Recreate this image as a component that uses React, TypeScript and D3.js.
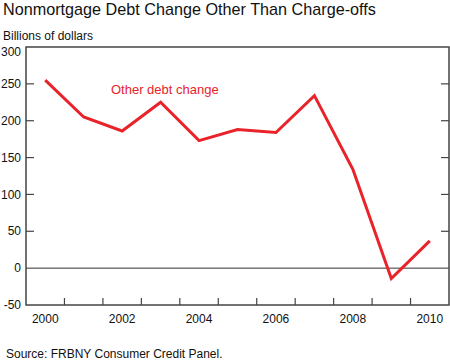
import * as React from "react";
import * as d3 from "d3";

const years = ["2000", "2001", "2002", "2003", "2004", "2005", "2006", "2007", "2008", "2009", "2010"];
const otherDebtChange = [255, 205, 186, 225, 173, 188, 184, 234, 134, -14, 37];
const yTicks = [-50, 0, 50, 100, 150, 200, 250, 300];
const xLabels = ["2000", "2002", "2004", "2006", "2008", "2010"];

const W = 450;
const H = 362;
const font = "'Liberation Sans', Arial, sans-serif";

function drawChart(svgRef: React.RefObject<SVGSVGElement | null>) {
  const margin = { top: 47, right: 1, bottom: 57, left: 26 };
  const width = W - margin.left - margin.right;
  const height = H - margin.top - margin.bottom;

  const x = d3.scaleBand().domain(years).range([0, width]);
  const y = d3.scaleLinear().domain([-50, 300]).range([height, 0]);

  const svgContainer = d3.select(svgRef.current).attr("width", W).attr("height", H);
  svgContainer.selectAll("*").remove();

  svgContainer.append("text")
    .text("Nonmortgage Debt Change Other Than Charge-offs")
    .attr("x", 3).attr("y", 15)
    .attr("font-family", font).attr("font-size", 16.2).attr("fill", "#111");

  svgContainer.append("text")
    .text("Billions of dollars")
    .attr("x", 3).attr("y", 40)
    .attr("font-family", font).attr("font-size", 12).attr("fill", "#111");

  svgContainer.append("text")
    .text("Source: FRBNY Consumer Credit Panel.")
    .attr("x", 6).attr("y", 358)
    .attr("font-family", font).attr("font-size", 12).attr("fill", "#111");

  const svg = svgContainer.append("g").attr("transform", `translate(${margin.left},${margin.top})`);

  // y tick labels (top one nudged down, as in the original)
  svg.selectAll(".ylab")
    .data(yTicks)
    .enter()
    .append("text")
    .attr("x", -5)
    .attr("y", d => y(d) + (d === 300 ? 5 : 0))
    .attr("dy", "0.35em")
    .attr("text-anchor", "end")
    .attr("font-family", font).attr("font-size", 12).attr("fill", "#111")
    .text(d => d);

  // inner ticks left & right
  const tickLen = 8;
  const innerTicks = yTicks.filter(d => d !== 0 && d !== -50 && d !== 300);
  svg.selectAll(".ytl")
    .data(innerTicks)
    .enter()
    .append("line")
    .attr("x1", 0).attr("x2", tickLen)
    .attr("y1", d => y(d)).attr("y2", d => y(d))
    .attr("stroke", "#444").attr("stroke-width", 1.2);
  svg.selectAll(".ytr")
    .data(innerTicks)
    .enter()
    .append("line")
    .attr("x1", width).attr("x2", width - tickLen)
    .attr("y1", d => y(d)).attr("y2", d => y(d))
    .attr("stroke", "#444").attr("stroke-width", 1.2);

  // bottom ticks at year boundaries
  svg.selectAll(".xt")
    .data(years.slice(1))
    .enter()
    .append("line")
    .attr("x1", d => x(d)!).attr("x2", d => x(d)!)
    .attr("y1", height).attr("y2", height - 7)
    .attr("stroke", "#444").attr("stroke-width", 1.2);

  svg.selectAll(".xlab")
    .data(xLabels)
    .enter()
    .append("text")
    .attr("x", d => x(d)! + x.bandwidth() / 2)
    .attr("y", height + 18)
    .attr("text-anchor", "middle")
    .attr("font-family", font).attr("font-size", 12).attr("fill", "#111")
    .text(d => d);

  // zero line
  svg.append("line")
    .attr("x1", 0).attr("x2", width)
    .attr("y1", y(0)).attr("y2", y(0))
    .attr("stroke", "#333").attr("stroke-width", 1);

  // frame
  svg.append("rect")
    .attr("x", 0).attr("y", 0)
    .attr("width", width).attr("height", height)
    .attr("fill", "none").attr("stroke", "#444").attr("stroke-width", 1.5);

  const line = d3.line<number>()
    .x((_, i) => x(years[i])! + x.bandwidth() / 2)
    .y(d => y(d));

  svg.append("path")
    .datum(otherDebtChange)
    .attr("d", line)
    .attr("fill", "none")
    .attr("stroke", "#e8232a")
    .attr("stroke-width", 3)
    .attr("stroke-linejoin", "miter");

  svg.append("text")
    .text("Other debt change")
    .attr("x", 85).attr("y", 47)
    .attr("font-family", font).attr("font-size", 13).attr("fill", "#e8232a");
}

const App = () => {
  const svgRef = React.useRef<SVGSVGElement>(null);

  React.useEffect(() => {
    drawChart(svgRef);
  }, []);

  return (
    <div style={{ position: "absolute", left: 0, top: 0 }}>
      <svg ref={svgRef} style={{ display: "block", background: "#fff" }} />
    </div>
  );
};

export default App;
